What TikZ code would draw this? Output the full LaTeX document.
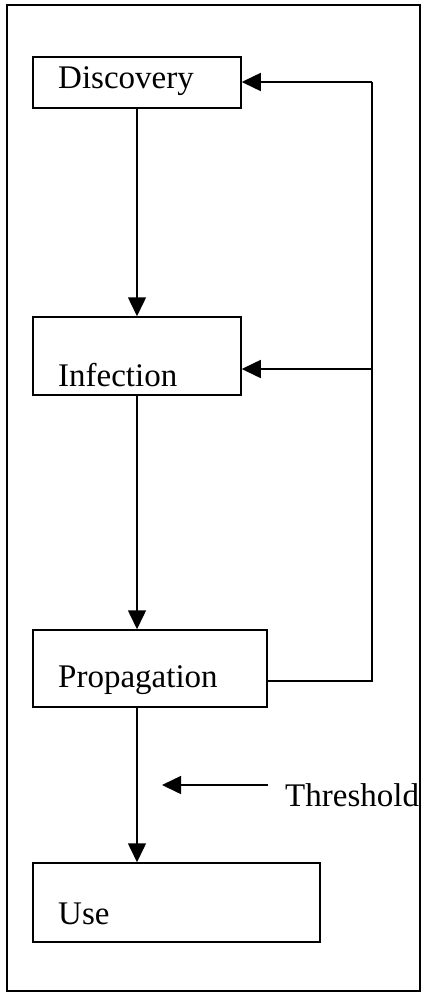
\documentclass[tikz,border=0pt]{standalone}
\usepackage{fontspec}
\setmainfont{Liberation Serif}
\usetikzlibrary{arrows.meta}
\begin{document}
\begin{tikzpicture}[x=1pt,y=-1pt,
 box/.style={draw, line width=1.5pt, inner sep=0pt, rectangle},
 lbl/.style={anchor=base west, inner sep=0pt, font=\fontsize{33}{38}\selectfont},
 arr/.style={line width=1.5pt, -{Triangle[length=19pt,width=18pt]}},
 ln/.style={line width=1.5pt}]
\useasboundingbox (0,0) rectangle (425,993);
\node[draw, line width=2pt, inner sep=0pt, minimum width=413pt, minimum height=986pt] (frame) at (213.5,498) {};
% boxes
\node[box, minimum width=208pt, minimum height=51pt] (disc) at (137,82.5) {};
\node[box, minimum width=208pt, minimum height=78pt] (inf) at (137,356) {};
\node[box, minimum width=234pt, minimum height=77pt] (prop) at (150,668.5) {};
\node[box, minimum width=287pt, minimum height=79pt] (use) at (176.5,902.5) {};
% labels
\node[lbl] (tdisc) at (58,88) {Discovery};
\node[lbl] (tinf) at (58,386) {Infection};
\node[lbl] (tprop) at (58,687) {Propagation};
\node[lbl] (tuse) at (58,924) {Use};
\node[lbl] (thr) at (285,806) {Threshold};
% main flow
\draw[arr] (disc.south) -- (inf.north);
\draw[arr] (inf.south) -- (inf.south |- prop.north);
\draw[arr] (inf.south |- prop.south) -- (inf.south |- use.north);
% feedback
\coordinate (fbp) at (372,681);
\coordinate (fbt) at (372,82);
\coordinate (fbm) at (372,369);
\draw[ln] (prop.east |- fbp) -- (fbp) -- (fbt);
\draw[arr] (fbt) -- (disc.east |- fbt);
\draw[arr] (fbm) -- (inf.east |- fbm);
% threshold
\coordinate (ts) at (268,785);
\coordinate (te) at (162,785);
\draw[arr] (ts) -- (te);
\end{tikzpicture}
\end{document}
